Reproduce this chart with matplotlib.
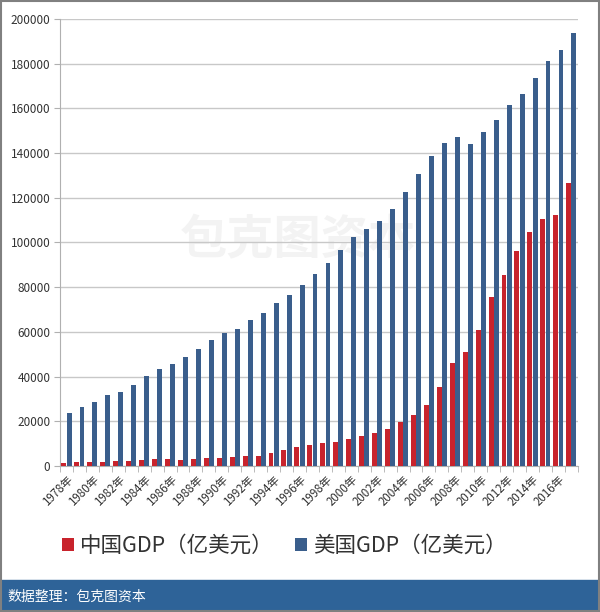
import matplotlib
matplotlib.use('Agg')
from matplotlib import pyplot as plt
from matplotlib.patches import Rectangle
import numpy as np

plt.rcParams['font.family'] = ['Noto Sans CJK SC', 'DejaVu Sans']

# data (亿美元)
years = list(range(1978, 2018))
year_labels = [f'{y}年' for y in years]
china_gdp = [1500, 1800, 1900, 1950, 2050, 2300, 2600, 3100, 3000, 2700,
             3100, 3500, 3600, 3800, 4300, 4400, 5600, 7300, 8600, 9600,
             10300, 10900, 12100, 13400, 14700, 16600, 19600, 22900, 27500, 35500,
             46000, 51000, 61000, 75700, 85600, 96100, 104800, 110600, 112300, 126400]
us_gdp = [23600, 26300, 28600, 31900, 33300, 36400, 40300, 43400, 45800, 48600,
          52400, 56400, 59700, 61500, 65200, 68600, 72900, 76600, 80900, 85900,
          90700, 96600, 102500, 105900, 109500, 114900, 122600, 130800, 138600, 144700,
          147000, 144000, 149400, 155000, 161500, 166600, 173800, 181000, 186300, 193500]
legend_labels = ['中国GDP（亿美元）', '美国GDP（亿美元）']

red = '#c8232c'
blue = '#3a5e8c'

fig = plt.figure(figsize=(6, 6.12), dpi=100)
ax = fig.add_axes([0.1, 0.2386, 0.863, 0.7304])

x = np.arange(len(years))
w = 0.38
b1 = ax.bar(x - 0.2, china_gdp, width=w, color=red, zorder=3, label=legend_labels[0])
b2 = ax.bar(x + 0.2, us_gdp, width=w, color=blue, zorder=3, label=legend_labels[1])

ax.set_xlim(-0.5, len(years) - 0.5)
ax.set_ylim(0, 200000)
ax.set_yticks(np.arange(0, 200001, 20000))
ax.tick_params(axis='y', length=4, color='#b0b0b0', labelsize=8.5, labelcolor='#333333', pad=3)
ax.yaxis.grid(True, color='#c8c8c8', linewidth=1, zorder=0)

ax.set_xticks(x[::2])
ax.set_xticklabels(year_labels[::2], rotation=45, ha='right', rotation_mode='anchor',
                   fontsize=8.3, color='#333333')
ax.tick_params(axis='x', length=0, pad=5)
ax.set_xticks(np.arange(-0.5, len(years)), minor=True)
ax.tick_params(axis='x', which='minor', length=4, color='#b0b0b0')

for s in ['top', 'right']:
    ax.spines[s].set_visible(False)
ax.spines['left'].set_color('#b0b0b0')
ax.spines['bottom'].set_color('#b0b0b0')

# faint watermark
ax.text(0.46, 0.505, '包克图资本', transform=ax.transAxes, fontsize=34, fontweight='bold',
        color='#f3f3f3', ha='center', va='center', zorder=1)

fig.legend(handles=[b1, b2], loc='center', bbox_to_anchor=(0.474, 0.108), ncol=2,
           frameon=False, fontsize=15.5, handlelength=0.55, handleheight=0.55,
           handletextpad=0.3, columnspacing=1.0,
           labelcolor='#333333')

# bottom banner
fig.patches.append(Rectangle((0, 0), 1, 0.053, transform=fig.transFigure,
                             color='#2e6398', zorder=0))
fig.text(0.013, 0.0255, '数据整理：包克图资本', color='white', fontsize=10, va='center')

# outer border
fig.patches.append(Rectangle((0.001, 0.001), 0.998, 0.998, transform=fig.transFigure,
                             fill=False, edgecolor='#808080', linewidth=1.5))

fig.savefig('out.png', dpi=100)
